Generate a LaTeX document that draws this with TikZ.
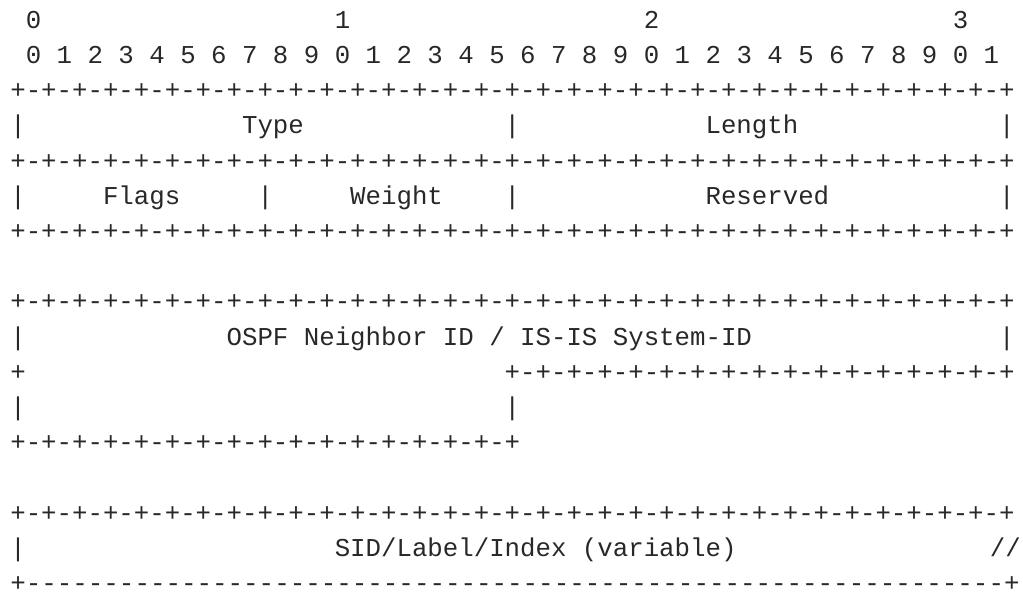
\documentclass[tikz,border=0pt]{standalone}
\usepackage{fontspec}
\setmonofont{Liberation Mono}
\definecolor{ink}{RGB}{40,40,40}

\begin{document}
\begin{tikzpicture}[x=7.725pt,y=-17.6pt]
\tikzstyle{txt} = [inner sep=0pt, outer sep=0pt, anchor=base west, text=ink, font=\ttfamily\fontsize{12.875pt}{15pt}\selectfont]
\tikzstyle{stretched} = [xscale=1.005, transform shape]

\useasboundingbox (-0.667,-0.804) rectangle (65.547,16.014);

% Bit numbering
\node[txt] (ten0) at (1,0) {0};
\node[txt] (ten1) at (21,0) {1};
\node[txt] (ten2) at (41,0) {2};
\node[txt] (ten3) at (61,0) {3};
\node[txt] (bits) at (1,1) {0 1 2 3 4 5 6 7 8 9 0 1 2 3 4 5 6 7 8 9 0 1 2 3 4 5 6 7 8 9 0 1};

% Type / Length
\node[txt] (rule1) at (0,2) {+-+-+-+-+-+-+-+-+-+-+-+-+-+-+-+-+-+-+-+-+-+-+-+-+-+-+-+-+-+-+-+-+};
\node[txt] (barA1) at (0,3) {|};
\node[txt] (type) at (15,3) {Type};
\node[txt] (barA2) at (32,3) {|};
\node[txt] (length) at (45,3) {Length};
\node[txt] (barA3) at (64,3) {|};
\node[txt] (rule2) at (0,4) {+-+-+-+-+-+-+-+-+-+-+-+-+-+-+-+-+-+-+-+-+-+-+-+-+-+-+-+-+-+-+-+-+};

% Flags / Weight / Reserved
\node[txt] (barB1) at (0,5) {|};
\node[txt] (flags) at (6,5) {Flags};
\node[txt] (barB2) at (16,5) {|};
\node[txt] (weight) at (22,5) {Weight};
\node[txt] (barB3) at (32,5) {|};
\node[txt] (reserved) at (45,5) {Reserved};
\node[txt] (barB4) at (64,5) {|};
\node[txt] (rule3) at (0,6) {+-+-+-+-+-+-+-+-+-+-+-+-+-+-+-+-+-+-+-+-+-+-+-+-+-+-+-+-+-+-+-+-+};

% Neighbor ID
\node[txt] (rule4) at (0,8) {+-+-+-+-+-+-+-+-+-+-+-+-+-+-+-+-+-+-+-+-+-+-+-+-+-+-+-+-+-+-+-+-+};
\node[txt] (barC1) at (0,9) {|};
\node[txt] (nbrid) at (14,9) {OSPF Neighbor ID / IS-IS System-ID};
\node[txt] (barC2) at (64,9) {|};
\node[txt] (cornC) at (0,10) {+};
\node[txt] (rule5) at (32,10) {+-+-+-+-+-+-+-+-+-+-+-+-+-+-+-+-+};
\node[txt] (barD1) at (0,11) {|};
\node[txt] (barD2) at (32,11) {|};
\node[txt] (rule6) at (0,12) {+-+-+-+-+-+-+-+-+-+-+-+-+-+-+-+-+};

% SID/Label/Index
\node[txt] (rule7) at (0,14) {+-+-+-+-+-+-+-+-+-+-+-+-+-+-+-+-+-+-+-+-+-+-+-+-+-+-+-+-+-+-+-+-+};
\node[txt] (barE1) at (0,15) {|};
\node[txt] (sid) at (21,15) {SID/Label/Index (variable)};
\node[txt] (cont) at (63.4,15) {//};
\node[txt, stretched] (rule8) at (0,16) {+---------------------------------------------------------------+};
%
\end{tikzpicture}
\end{document}
